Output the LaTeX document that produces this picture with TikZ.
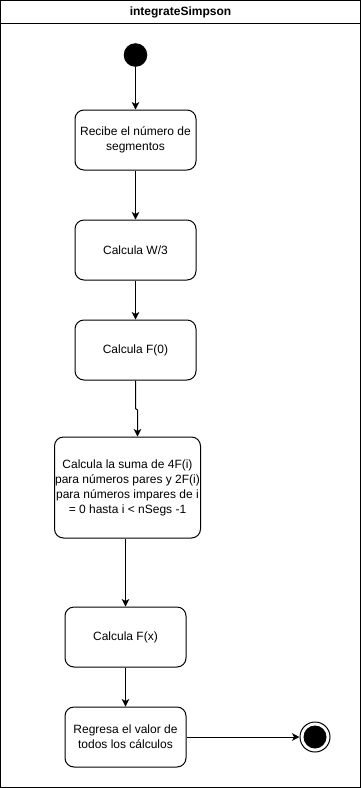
\documentclass[tikz,border=0pt]{standalone}
\usepackage{fontspec}
\setmainfont{Liberation Sans}
\usetikzlibrary{arrows.meta}
\begin{document}
\begin{tikzpicture}[x=1pt,y=-1pt,
  act/.style={draw=black, rounded corners=9pt, line width=1pt, align=center,
    font=\fontsize{12}{15}\selectfont, inner sep=0pt,
    minimum width=121pt, minimum height=60pt},
  arr/.style={-{Stealth[length=7.5pt,width=7.5pt,inset=2pt]}, line width=1pt},
]
\useasboundingbox (0,0) rectangle (361,788);
% frame with title compartment
\draw[line width=1.2pt] (0.6,0.6) rectangle (360.4,787.4);
\draw[line width=1.2pt] (0.6,23.5) -- (360.4,23.5);
\node[font=\bfseries\fontsize{12}{14}\selectfont] (title) at (180.5,12) {integrateSimpson};

% initial and final states
\fill (135.5,55) circle[radius=11.8pt];
\node[circle, inner sep=0pt, minimum size=23.6pt] (start) at (135.5,55) {};
\node[circle, draw=black, line width=1pt, inner sep=0pt, minimum size=30pt] (end) at (315,737) {};
\fill (end.center) circle[radius=11.5pt];

% activities
\node[act] (b1) at (135.5,140) {Recibe el número de\\segmentos};
\node[act] (b2) at (135.5,250) {Calcula W/3};
\node[act] (b3) at (135.5,350) {Calcula F(0)};
\node[act, minimum width=146pt, minimum height=101pt] (b4) at (127.5,487.5)
  {Calcula la suma de 4F(i)\\para números pares y 2F(i)\\para números impares de i\\= 0 hasta i < nSegs -1};
\node[act] (b5) at (125.5,637) {Calcula F(x)};
\node[act] (b6) at (125.5,737) {Regresa el valor de\\todos los cálculos};

% flow
\coordinate (jog) at (137.5,410);
\draw[arr] (start) -- (b1);
\draw[arr] (b1) -- (b2);
\draw[arr] (b2) -- (b3);
\draw[arr] (b3.south) -- ++(0,28) -- (jog) -- (jog |- b4.north);
\draw[arr] (b4.south -| b5.north) -- (b5.north);
\draw[arr] (b5) -- (b6);
\draw[arr] (b6) -- (end);
\end{tikzpicture}
\end{document}
